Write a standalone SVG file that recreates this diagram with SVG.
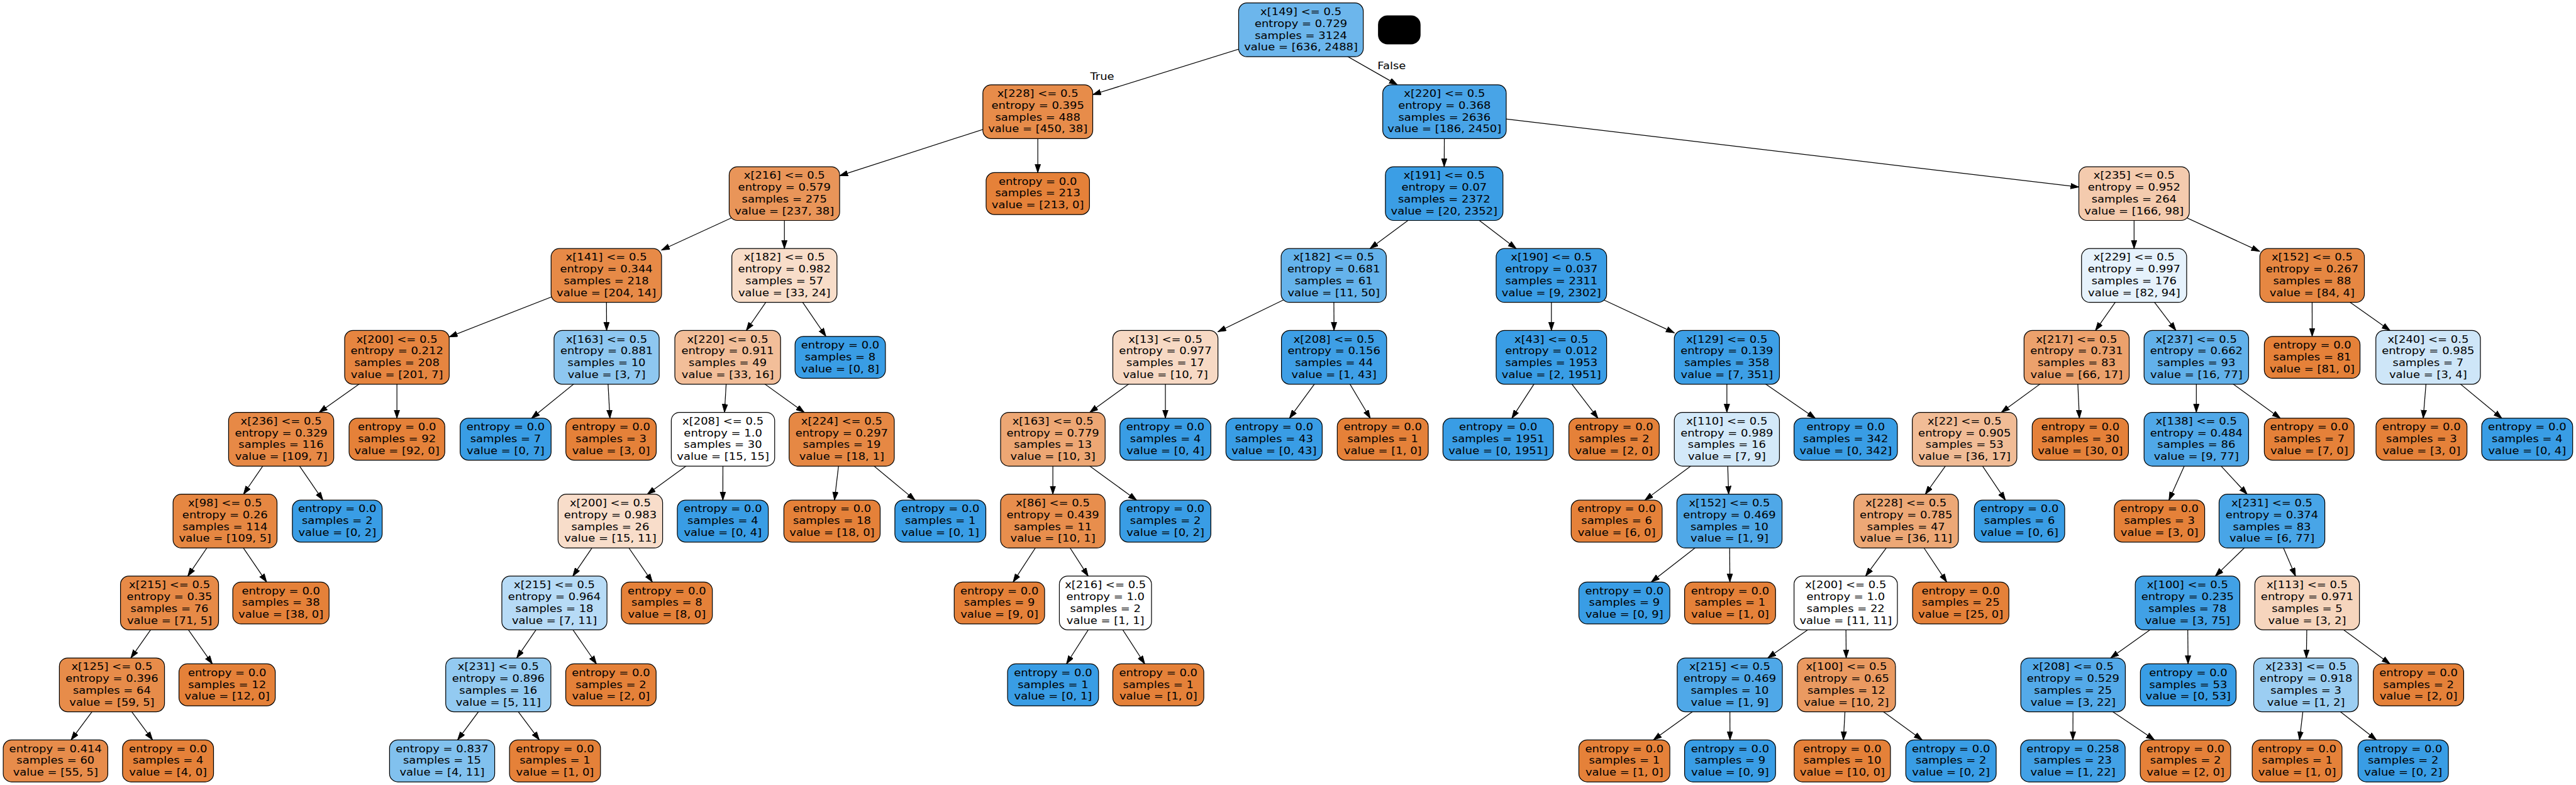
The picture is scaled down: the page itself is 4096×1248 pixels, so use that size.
<svg xmlns="http://www.w3.org/2000/svg" width="4096" height="1248" viewBox="0 0 4096 1248">
<defs>
<style>
.b{stroke:#000;stroke-width:1.3}
text{font-family:"DejaVu Sans","Liberation Sans",sans-serif;font-size:16.5px;text-anchor:middle;fill:#000}
.e line{stroke:#000;stroke-width:1.3;marker-end:url(#ah)}
</style>
<marker id="ah" markerUnits="userSpaceOnUse" markerWidth="16" markerHeight="12" refX="14" refY="5" orient="auto"><path d="M0,0.3 L14,5 L0,9.7 z" fill="#000" stroke="#000" stroke-width="1"/></marker>
</defs>
<rect width="4096" height="1248" fill="#fff"/>
<g transform="scale(0.9392)">
<g id="connectors" class="e">
<line x1="2202.5" y1="50.5" x2="1850" y2="160.2"/>
<line x1="2202.5" y1="50.5" x2="2365.7" y2="143.6"/>
<line x1="1757" y1="189.1" x2="1421.5" y2="297.5"/>
<line x1="1757" y1="189.1" x2="1757" y2="292.2"/>
<line x1="1328" y1="327.7" x2="1120" y2="423.3"/>
<line x1="1328" y1="327.7" x2="1328" y2="420.8"/>
<line x1="1026.5" y1="466.3" x2="760.5" y2="570.3"/>
<line x1="1026.5" y1="466.3" x2="1027" y2="559.4"/>
<line x1="672" y1="604.9" x2="540.3" y2="698"/>
<line x1="672" y1="604.9" x2="672" y2="708"/>
<line x1="476" y1="743.5" x2="412.2" y2="836.6"/>
<line x1="476" y1="743.5" x2="546.7" y2="846.6"/>
<line x1="381" y1="882.1" x2="317.9" y2="975.2"/>
<line x1="381" y1="882.1" x2="451.4" y2="985.2"/>
<line x1="287" y1="1020.7" x2="221.5" y2="1113.8"/>
<line x1="287" y1="1020.7" x2="359.5" y2="1123.8"/>
<line x1="189.5" y1="1159.3" x2="120.3" y2="1252.5"/>
<line x1="189.5" y1="1159.3" x2="258.3" y2="1252.5"/>
<line x1="1027" y1="604.9" x2="899.8" y2="708"/>
<line x1="1027" y1="604.9" x2="1032.6" y2="708"/>
<line x1="1328" y1="466.3" x2="1263.5" y2="559.4"/>
<line x1="1328" y1="466.3" x2="1398.3" y2="569.4"/>
<line x1="1232" y1="604.9" x2="1226.6" y2="698"/>
<line x1="1232" y1="604.9" x2="1361.6" y2="698"/>
<line x1="1224" y1="743.5" x2="1095.9" y2="836.6"/>
<line x1="1224" y1="743.5" x2="1223.8" y2="846.6"/>
<line x1="1033.3" y1="882.1" x2="969.7" y2="975.2"/>
<line x1="1033.3" y1="882.1" x2="1104.5" y2="985.2"/>
<line x1="938.6" y1="1020.7" x2="874.8" y2="1113.8"/>
<line x1="938.6" y1="1020.7" x2="1009.8" y2="1123.8"/>
<line x1="843.6" y1="1159.3" x2="774.7" y2="1252.5"/>
<line x1="843.6" y1="1159.3" x2="913.1" y2="1252.5"/>
<line x1="1425" y1="743.5" x2="1412.8" y2="846.6"/>
<line x1="1425" y1="743.5" x2="1549.2" y2="846.6"/>
<line x1="2445.5" y1="189.1" x2="2445" y2="282.2"/>
<line x1="2445.5" y1="189.1" x2="3519.5" y2="316.6"/>
<line x1="2445" y1="327.7" x2="2319.4" y2="420.8"/>
<line x1="2445" y1="327.7" x2="2566.9" y2="420.8"/>
<line x1="2258" y1="466.3" x2="2062" y2="561.6"/>
<line x1="2258" y1="466.3" x2="2258.5" y2="559.4"/>
<line x1="1973" y1="604.9" x2="1845" y2="698"/>
<line x1="1973" y1="604.9" x2="1973" y2="708"/>
<line x1="1782.5" y1="743.5" x2="1782.5" y2="836.6"/>
<line x1="1782.5" y1="743.5" x2="1924.2" y2="846.6"/>
<line x1="1782.5" y1="882.1" x2="1715.2" y2="985.2"/>
<line x1="1782.5" y1="882.1" x2="1842.3" y2="975.2"/>
<line x1="1871.5" y1="1020.7" x2="1805.5" y2="1123.8"/>
<line x1="1871.5" y1="1020.7" x2="1938.1" y2="1123.8"/>
<line x1="2258.5" y1="604.9" x2="2183" y2="708"/>
<line x1="2258.5" y1="604.9" x2="2319.9" y2="708"/>
<line x1="2626.5" y1="466.3" x2="2626.5" y2="559.4"/>
<line x1="2626.5" y1="466.3" x2="2834.6" y2="563.4"/>
<line x1="2626.5" y1="604.9" x2="2559.5" y2="708"/>
<line x1="2626.5" y1="604.9" x2="2705.4" y2="708"/>
<line x1="2923.6" y1="604.9" x2="2923.6" y2="698"/>
<line x1="2923.6" y1="604.9" x2="3073.3" y2="708"/>
<line x1="2923.6" y1="743.5" x2="2784.8" y2="846.6"/>
<line x1="2923.6" y1="743.5" x2="2926.6" y2="836.6"/>
<line x1="2928" y1="882.1" x2="2795.6" y2="985.2"/>
<line x1="2928" y1="882.1" x2="2928.7" y2="985.2"/>
<line x1="3613" y1="327.7" x2="3613" y2="420.8"/>
<line x1="3613" y1="327.7" x2="3825.6" y2="425.5"/>
<line x1="3613" y1="466.3" x2="3547.6" y2="559.4"/>
<line x1="3613" y1="466.3" x2="3683.8" y2="559.4"/>
<line x1="3515.7" y1="604.9" x2="3388.3" y2="698"/>
<line x1="3515.7" y1="604.9" x2="3520.4" y2="708"/>
<line x1="3326" y1="743.5" x2="3259.5" y2="836.6"/>
<line x1="3326" y1="743.5" x2="3395.2" y2="846.6"/>
<line x1="3227" y1="882.1" x2="3158.4" y2="975.2"/>
<line x1="3227" y1="882.1" x2="3295.8" y2="985.2"/>
<line x1="3124.8" y1="1020.7" x2="2992.9" y2="1113.8"/>
<line x1="3124.8" y1="1020.7" x2="3125.6" y2="1113.8"/>
<line x1="2928.5" y1="1159.3" x2="2799.2" y2="1252.5"/>
<line x1="2928.5" y1="1159.3" x2="2928.9" y2="1252.5"/>
<line x1="3126" y1="1159.3" x2="3120.9" y2="1252.5"/>
<line x1="3126" y1="1159.3" x2="3254.2" y2="1252.5"/>
<line x1="3718.4" y1="604.9" x2="3718.4" y2="698"/>
<line x1="3718.4" y1="604.9" x2="3860.6" y2="708"/>
<line x1="3718.4" y1="743.5" x2="3672" y2="846.6"/>
<line x1="3718.4" y1="743.5" x2="3804.4" y2="836.6"/>
<line x1="3846.4" y1="882.1" x2="3750.4" y2="975.2"/>
<line x1="3846.4" y1="882.1" x2="3886.4" y2="975.2"/>
<line x1="3703.5" y1="1020.7" x2="3573.3" y2="1113.8"/>
<line x1="3703.5" y1="1020.7" x2="3704.4" y2="1123.8"/>
<line x1="3509.7" y1="1159.3" x2="3509.4" y2="1252.5"/>
<line x1="3509.7" y1="1159.3" x2="3647.5" y2="1252.5"/>
<line x1="3906" y1="1020.7" x2="3904.7" y2="1113.8"/>
<line x1="3906" y1="1020.7" x2="4046.2" y2="1123.8"/>
<line x1="3904" y1="1159.3" x2="3893.1" y2="1252.5"/>
<line x1="3904" y1="1159.3" x2="4023.2" y2="1252.5"/>
<line x1="3914.4" y1="466.3" x2="3914.5" y2="569.4"/>
<line x1="3914.4" y1="466.3" x2="4046.3" y2="559.4"/>
<line x1="4110.8" y1="604.9" x2="4102.5" y2="708"/>
<line x1="4110.8" y1="604.9" x2="4235.6" y2="708"/>
<g transform="translate(1866,135) scale(1.16,1)"><text>True</text></g>
<g transform="translate(2356,117) scale(1.16,1)"><text>False</text></g>
</g>
<rect id="masked" x="2333" y="26" width="72" height="49" rx="16" fill="#000"/>
<g id="n0" transform="translate(2202.5,50.5)"><rect class="b" x="-105.5" y="-45.5" width="211" height="91" rx="14" fill="#6cb6ec"/><g transform="scale(1.16,1)"><text y="-25">x[149] &lt;= 0.5</text><text y="-5">entropy = 0.729</text><text y="15">samples = 3124</text><text y="35">value = [636, 2488]</text></g></g>
<g id="n1" transform="translate(1757,189.1)"><rect class="b" x="-93" y="-45.5" width="186" height="91" rx="14" fill="#e78c4a"/><g transform="scale(1.16,1)"><text y="-25">x[228] &lt;= 0.5</text><text y="-5">entropy = 0.395</text><text y="15">samples = 488</text><text y="35">value = [450, 38]</text></g></g>
<g id="n2" transform="translate(1328,327.7)"><rect class="b" x="-93.5" y="-45.5" width="187" height="91" rx="14" fill="#e99559"/><g transform="scale(1.16,1)"><text y="-25">x[216] &lt;= 0.5</text><text y="-5">entropy = 0.579</text><text y="15">samples = 275</text><text y="35">value = [237, 38]</text></g></g>
<g id="n3" transform="translate(1026.5,466.3)"><rect class="b" x="-93.5" y="-45.5" width="187" height="91" rx="14" fill="#e78a47"/><g transform="scale(1.16,1)"><text y="-25">x[141] &lt;= 0.5</text><text y="-5">entropy = 0.344</text><text y="15">samples = 218</text><text y="35">value = [204, 14]</text></g></g>
<g id="n4" transform="translate(672,604.9)"><rect class="b" x="-88.5" y="-45.5" width="177" height="91" rx="14" fill="#e68540"/><g transform="scale(1.16,1)"><text y="-25">x[200] &lt;= 0.5</text><text y="-5">entropy = 0.212</text><text y="15">samples = 208</text><text y="35">value = [201, 7]</text></g></g>
<g id="n5" transform="translate(476,743.5)"><rect class="b" x="-89" y="-45.5" width="178" height="91" rx="14" fill="#e78946"/><g transform="scale(1.16,1)"><text y="-25">x[236] &lt;= 0.5</text><text y="-5">entropy = 0.329</text><text y="15">samples = 116</text><text y="35">value = [109, 7]</text></g></g>
<g id="n6" transform="translate(381,882.1)"><rect class="b" x="-88" y="-45.5" width="176" height="91" rx="14" fill="#e68742"/><g transform="scale(1.16,1)"><text y="-25">x[98] &lt;= 0.5</text><text y="-5">entropy = 0.26</text><text y="15">samples = 114</text><text y="35">value = [109, 5]</text></g></g>
<g id="n7" transform="translate(287,1020.7)"><rect class="b" x="-83" y="-45.5" width="166" height="91" rx="14" fill="#e78a47"/><g transform="scale(1.16,1)"><text y="-25">x[215] &lt;= 0.5</text><text y="-5">entropy = 0.35</text><text y="15">samples = 76</text><text y="35">value = [71, 5]</text></g></g>
<g id="n8" transform="translate(189.5,1159.3)"><rect class="b" x="-89" y="-45.5" width="178" height="91" rx="14" fill="#e78c4a"/><g transform="scale(1.16,1)"><text y="-25">x[125] &lt;= 0.5</text><text y="-5">entropy = 0.396</text><text y="15">samples = 64</text><text y="35">value = [59, 5]</text></g></g>
<g id="n9" transform="translate(94,1288)"><rect class="b" x="-88.5" y="-35.5" width="177" height="71" rx="14" fill="#e78c4b"/><g transform="scale(1.16,1)"><text y="-15">entropy = 0.414</text><text y="5">samples = 60</text><text y="25">value = [55, 5]</text></g></g>
<g id="n10" transform="translate(284.5,1288)"><rect class="b" x="-77" y="-35.5" width="154" height="71" rx="14" fill="#e58139"/><g transform="scale(1.16,1)"><text y="-15">entropy = 0.0</text><text y="5">samples = 4</text><text y="25">value = [4, 0]</text></g></g>
<g id="n11" transform="translate(384.5,1159.3)"><rect class="b" x="-81.5" y="-35.5" width="163" height="71" rx="14" fill="#e58139"/><g transform="scale(1.16,1)"><text y="-15">entropy = 0.0</text><text y="5">samples = 12</text><text y="25">value = [12, 0]</text></g></g>
<g id="n12" transform="translate(475.6,1020.7)"><rect class="b" x="-81.5" y="-35.5" width="163" height="71" rx="14" fill="#e58139"/><g transform="scale(1.16,1)"><text y="-15">entropy = 0.0</text><text y="5">samples = 38</text><text y="25">value = [38, 0]</text></g></g>
<g id="n13" transform="translate(571,882.1)"><rect class="b" x="-76" y="-35.5" width="152" height="71" rx="14" fill="#399de5"/><g transform="scale(1.16,1)"><text y="-15">entropy = 0.0</text><text y="5">samples = 2</text><text y="25">value = [0, 2]</text></g></g>
<g id="n14" transform="translate(672,743.5)"><rect class="b" x="-81" y="-35.5" width="162" height="71" rx="14" fill="#e58139"/><g transform="scale(1.16,1)"><text y="-15">entropy = 0.0</text><text y="5">samples = 92</text><text y="25">value = [92, 0]</text></g></g>
<g id="n15" transform="translate(1027,604.9)"><rect class="b" x="-89" y="-45.5" width="178" height="91" rx="14" fill="#8ec7f0"/><g transform="scale(1.16,1)"><text y="-25">x[163] &lt;= 0.5</text><text y="-5">entropy = 0.881</text><text y="15">samples = 10</text><text y="35">value = [3, 7]</text></g></g>
<g id="n16" transform="translate(856,743.5)"><rect class="b" x="-77" y="-35.5" width="154" height="71" rx="14" fill="#399de5"/><g transform="scale(1.16,1)"><text y="-15">entropy = 0.0</text><text y="5">samples = 7</text><text y="25">value = [0, 7]</text></g></g>
<g id="n17" transform="translate(1034.5,743.5)"><rect class="b" x="-76.5" y="-35.5" width="153" height="71" rx="14" fill="#e58139"/><g transform="scale(1.16,1)"><text y="-15">entropy = 0.0</text><text y="5">samples = 3</text><text y="25">value = [3, 0]</text></g></g>
<g id="n18" transform="translate(1328,466.3)"><rect class="b" x="-89" y="-45.5" width="178" height="91" rx="14" fill="#f8ddc9"/><g transform="scale(1.16,1)"><text y="-25">x[182] &lt;= 0.5</text><text y="-5">entropy = 0.982</text><text y="15">samples = 57</text><text y="35">value = [33, 24]</text></g></g>
<g id="n19" transform="translate(1232,604.9)"><rect class="b" x="-89.5" y="-45.5" width="179" height="91" rx="14" fill="#f2be99"/><g transform="scale(1.16,1)"><text y="-25">x[220] &lt;= 0.5</text><text y="-5">entropy = 0.911</text><text y="15">samples = 49</text><text y="35">value = [33, 16]</text></g></g>
<g id="n20" transform="translate(1224,743.5)"><rect class="b" x="-87.5" y="-45.5" width="175" height="91" rx="14" fill="#ffffff"/><g transform="scale(1.16,1)"><text y="-25">x[208] &lt;= 0.5</text><text y="-5">entropy = 1.0</text><text y="15">samples = 30</text><text y="35">value = [15, 15]</text></g></g>
<g id="n21" transform="translate(1033.3,882.1)"><rect class="b" x="-88.5" y="-45.5" width="177" height="91" rx="14" fill="#f8ddca"/><g transform="scale(1.16,1)"><text y="-25">x[200] &lt;= 0.5</text><text y="-5">entropy = 0.983</text><text y="15">samples = 26</text><text y="35">value = [15, 11]</text></g></g>
<g id="n22" transform="translate(938.6,1020.7)"><rect class="b" x="-89" y="-45.5" width="178" height="91" rx="14" fill="#b7dbf6"/><g transform="scale(1.16,1)"><text y="-25">x[215] &lt;= 0.5</text><text y="-5">entropy = 0.964</text><text y="15">samples = 18</text><text y="35">value = [7, 11]</text></g></g>
<g id="n23" transform="translate(843.6,1159.3)"><rect class="b" x="-89" y="-45.5" width="178" height="91" rx="14" fill="#93caf1"/><g transform="scale(1.16,1)"><text y="-25">x[231] &lt;= 0.5</text><text y="-5">entropy = 0.896</text><text y="15">samples = 16</text><text y="35">value = [5, 11]</text></g></g>
<g id="n24" transform="translate(748.5,1288)"><rect class="b" x="-89" y="-35.5" width="178" height="71" rx="14" fill="#81c1ee"/><g transform="scale(1.16,1)"><text y="-15">entropy = 0.837</text><text y="5">samples = 15</text><text y="25">value = [4, 11]</text></g></g>
<g id="n25" transform="translate(939.6,1288)"><rect class="b" x="-77" y="-35.5" width="154" height="71" rx="14" fill="#e58139"/><g transform="scale(1.16,1)"><text y="-15">entropy = 0.0</text><text y="5">samples = 1</text><text y="25">value = [1, 0]</text></g></g>
<g id="n26" transform="translate(1034.3,1159.3)"><rect class="b" x="-76.5" y="-35.5" width="153" height="71" rx="14" fill="#e58139"/><g transform="scale(1.16,1)"><text y="-15">entropy = 0.0</text><text y="5">samples = 2</text><text y="25">value = [2, 0]</text></g></g>
<g id="n27" transform="translate(1129,1020.7)"><rect class="b" x="-77" y="-35.5" width="154" height="71" rx="14" fill="#e58139"/><g transform="scale(1.16,1)"><text y="-15">entropy = 0.0</text><text y="5">samples = 8</text><text y="25">value = [8, 0]</text></g></g>
<g id="n28" transform="translate(1223.7,882.1)"><rect class="b" x="-77" y="-35.5" width="154" height="71" rx="14" fill="#399de5"/><g transform="scale(1.16,1)"><text y="-15">entropy = 0.0</text><text y="5">samples = 4</text><text y="25">value = [0, 4]</text></g></g>
<g id="n29" transform="translate(1425,743.5)"><rect class="b" x="-89" y="-45.5" width="178" height="91" rx="14" fill="#e68844"/><g transform="scale(1.16,1)"><text y="-25">x[224] &lt;= 0.5</text><text y="-5">entropy = 0.297</text><text y="15">samples = 19</text><text y="35">value = [18, 1]</text></g></g>
<g id="n30" transform="translate(1408.6,882.1)"><rect class="b" x="-81.5" y="-35.5" width="163" height="71" rx="14" fill="#e58139"/><g transform="scale(1.16,1)"><text y="-15">entropy = 0.0</text><text y="5">samples = 18</text><text y="25">value = [18, 0]</text></g></g>
<g id="n31" transform="translate(1592,882.1)"><rect class="b" x="-77" y="-35.5" width="154" height="71" rx="14" fill="#399de5"/><g transform="scale(1.16,1)"><text y="-15">entropy = 0.0</text><text y="5">samples = 1</text><text y="25">value = [0, 1]</text></g></g>
<g id="n32" transform="translate(1422.5,604.9)"><rect class="b" x="-76.5" y="-35.5" width="153" height="71" rx="14" fill="#399de5"/><g transform="scale(1.16,1)"><text y="-15">entropy = 0.0</text><text y="5">samples = 8</text><text y="25">value = [0, 8]</text></g></g>
<g id="n33" transform="translate(1757,327.7)"><rect class="b" x="-87.5" y="-35.5" width="175" height="71" rx="14" fill="#e58139"/><g transform="scale(1.16,1)"><text y="-15">entropy = 0.0</text><text y="5">samples = 213</text><text y="25">value = [213, 0]</text></g></g>
<g id="n34" transform="translate(2445.5,189.1)"><rect class="b" x="-104.5" y="-45.5" width="209" height="91" rx="14" fill="#48a4e7"/><g transform="scale(1.16,1)"><text y="-25">x[220] &lt;= 0.5</text><text y="-5">entropy = 0.368</text><text y="15">samples = 2636</text><text y="35">value = [186, 2450]</text></g></g>
<g id="n35" transform="translate(2445,327.7)"><rect class="b" x="-99.5" y="-45.5" width="199" height="91" rx="14" fill="#3b9ee5"/><g transform="scale(1.16,1)"><text y="-25">x[191] &lt;= 0.5</text><text y="-5">entropy = 0.07</text><text y="15">samples = 2372</text><text y="35">value = [20, 2352]</text></g></g>
<g id="n36" transform="translate(2258,466.3)"><rect class="b" x="-89" y="-45.5" width="178" height="91" rx="14" fill="#65b3eb"/><g transform="scale(1.16,1)"><text y="-25">x[182] &lt;= 0.5</text><text y="-5">entropy = 0.681</text><text y="15">samples = 61</text><text y="35">value = [11, 50]</text></g></g>
<g id="n37" transform="translate(1973,604.9)"><rect class="b" x="-89" y="-45.5" width="178" height="91" rx="14" fill="#f7d9c4"/><g transform="scale(1.16,1)"><text y="-25">x[13] &lt;= 0.5</text><text y="-5">entropy = 0.977</text><text y="15">samples = 17</text><text y="35">value = [10, 7]</text></g></g>
<g id="n38" transform="translate(1782.5,743.5)"><rect class="b" x="-88.5" y="-45.5" width="177" height="91" rx="14" fill="#eda774"/><g transform="scale(1.16,1)"><text y="-25">x[163] &lt;= 0.5</text><text y="-5">entropy = 0.779</text><text y="15">samples = 13</text><text y="35">value = [10, 3]</text></g></g>
<g id="n39" transform="translate(1782.5,882.1)"><rect class="b" x="-88.5" y="-45.5" width="177" height="91" rx="14" fill="#e88e4d"/><g transform="scale(1.16,1)"><text y="-25">x[86] &lt;= 0.5</text><text y="-5">entropy = 0.439</text><text y="15">samples = 11</text><text y="35">value = [10, 1]</text></g></g>
<g id="n40" transform="translate(1692,1020.7)"><rect class="b" x="-76.5" y="-35.5" width="153" height="71" rx="14" fill="#e58139"/><g transform="scale(1.16,1)"><text y="-15">entropy = 0.0</text><text y="5">samples = 9</text><text y="25">value = [9, 0]</text></g></g>
<g id="n41" transform="translate(1871.5,1020.7)"><rect class="b" x="-78" y="-45.5" width="156" height="91" rx="14" fill="#ffffff"/><g transform="scale(1.16,1)"><text y="-25">x[216] &lt;= 0.5</text><text y="-5">entropy = 1.0</text><text y="15">samples = 2</text><text y="35">value = [1, 1]</text></g></g>
<g id="n42" transform="translate(1782.8,1159.3)"><rect class="b" x="-77" y="-35.5" width="154" height="71" rx="14" fill="#399de5"/><g transform="scale(1.16,1)"><text y="-15">entropy = 0.0</text><text y="5">samples = 1</text><text y="25">value = [0, 1]</text></g></g>
<g id="n43" transform="translate(1961,1159.3)"><rect class="b" x="-77" y="-35.5" width="154" height="71" rx="14" fill="#e58139"/><g transform="scale(1.16,1)"><text y="-15">entropy = 0.0</text><text y="5">samples = 1</text><text y="25">value = [1, 0]</text></g></g>
<g id="n44" transform="translate(1973,882.1)"><rect class="b" x="-77" y="-35.5" width="154" height="71" rx="14" fill="#399de5"/><g transform="scale(1.16,1)"><text y="-15">entropy = 0.0</text><text y="5">samples = 2</text><text y="25">value = [0, 2]</text></g></g>
<g id="n45" transform="translate(1973,743.5)"><rect class="b" x="-77" y="-35.5" width="154" height="71" rx="14" fill="#399de5"/><g transform="scale(1.16,1)"><text y="-15">entropy = 0.0</text><text y="5">samples = 4</text><text y="25">value = [0, 4]</text></g></g>
<g id="n46" transform="translate(2258.5,604.9)"><rect class="b" x="-89" y="-45.5" width="178" height="91" rx="14" fill="#3e9fe6"/><g transform="scale(1.16,1)"><text y="-25">x[208] &lt;= 0.5</text><text y="-5">entropy = 0.156</text><text y="15">samples = 44</text><text y="35">value = [1, 43]</text></g></g>
<g id="n47" transform="translate(2157,743.5)"><rect class="b" x="-81.5" y="-35.5" width="163" height="71" rx="14" fill="#399de5"/><g transform="scale(1.16,1)"><text y="-15">entropy = 0.0</text><text y="5">samples = 43</text><text y="25">value = [0, 43]</text></g></g>
<g id="n48" transform="translate(2341,743.5)"><rect class="b" x="-77" y="-35.5" width="154" height="71" rx="14" fill="#e58139"/><g transform="scale(1.16,1)"><text y="-15">entropy = 0.0</text><text y="5">samples = 1</text><text y="25">value = [1, 0]</text></g></g>
<g id="n49" transform="translate(2626.5,466.3)"><rect class="b" x="-93.5" y="-45.5" width="187" height="91" rx="14" fill="#3a9de5"/><g transform="scale(1.16,1)"><text y="-25">x[190] &lt;= 0.5</text><text y="-5">entropy = 0.037</text><text y="15">samples = 2311</text><text y="35">value = [9, 2302]</text></g></g>
<g id="n50" transform="translate(2626.5,604.9)"><rect class="b" x="-93.5" y="-45.5" width="187" height="91" rx="14" fill="#399de5"/><g transform="scale(1.16,1)"><text y="-25">x[43] &lt;= 0.5</text><text y="-5">entropy = 0.012</text><text y="15">samples = 1953</text><text y="35">value = [2, 1951]</text></g></g>
<g id="n51" transform="translate(2536.4,743.5)"><rect class="b" x="-93.5" y="-35.5" width="187" height="71" rx="14" fill="#399de5"/><g transform="scale(1.16,1)"><text y="-15">entropy = 0.0</text><text y="5">samples = 1951</text><text y="25">value = [0, 1951]</text></g></g>
<g id="n52" transform="translate(2732.6,743.5)"><rect class="b" x="-76.5" y="-35.5" width="153" height="71" rx="14" fill="#e58139"/><g transform="scale(1.16,1)"><text y="-15">entropy = 0.0</text><text y="5">samples = 2</text><text y="25">value = [2, 0]</text></g></g>
<g id="n53" transform="translate(2923.6,604.9)"><rect class="b" x="-89" y="-45.5" width="178" height="91" rx="14" fill="#3d9fe6"/><g transform="scale(1.16,1)"><text y="-25">x[129] &lt;= 0.5</text><text y="-5">entropy = 0.139</text><text y="15">samples = 358</text><text y="35">value = [7, 351]</text></g></g>
<g id="n54" transform="translate(2923.6,743.5)"><rect class="b" x="-89" y="-45.5" width="178" height="91" rx="14" fill="#d3e9f9"/><g transform="scale(1.16,1)"><text y="-25">x[110] &lt;= 0.5</text><text y="-5">entropy = 0.989</text><text y="15">samples = 16</text><text y="35">value = [7, 9]</text></g></g>
<g id="n55" transform="translate(2737,882.1)"><rect class="b" x="-77" y="-35.5" width="154" height="71" rx="14" fill="#e58139"/><g transform="scale(1.16,1)"><text y="-15">entropy = 0.0</text><text y="5">samples = 6</text><text y="25">value = [6, 0]</text></g></g>
<g id="n56" transform="translate(2928,882.1)"><rect class="b" x="-89" y="-45.5" width="178" height="91" rx="14" fill="#4fa8e8"/><g transform="scale(1.16,1)"><text y="-25">x[152] &lt;= 0.5</text><text y="-5">entropy = 0.469</text><text y="15">samples = 10</text><text y="35">value = [1, 9]</text></g></g>
<g id="n57" transform="translate(2750,1020.7)"><rect class="b" x="-77" y="-35.5" width="154" height="71" rx="14" fill="#399de5"/><g transform="scale(1.16,1)"><text y="-15">entropy = 0.0</text><text y="5">samples = 9</text><text y="25">value = [0, 9]</text></g></g>
<g id="n58" transform="translate(2929,1020.7)"><rect class="b" x="-77" y="-35.5" width="154" height="71" rx="14" fill="#e58139"/><g transform="scale(1.16,1)"><text y="-15">entropy = 0.0</text><text y="5">samples = 1</text><text y="25">value = [1, 0]</text></g></g>
<g id="n59" transform="translate(3124.8,743.5)"><rect class="b" x="-87.5" y="-35.5" width="175" height="71" rx="14" fill="#399de5"/><g transform="scale(1.16,1)"><text y="-15">entropy = 0.0</text><text y="5">samples = 342</text><text y="25">value = [0, 342]</text></g></g>
<g id="n60" transform="translate(3613,327.7)"><rect class="b" x="-93.5" y="-45.5" width="187" height="91" rx="14" fill="#f4cbae"/><g transform="scale(1.16,1)"><text y="-25">x[235] &lt;= 0.5</text><text y="-5">entropy = 0.952</text><text y="15">samples = 264</text><text y="35">value = [166, 98]</text></g></g>
<g id="n61" transform="translate(3613,466.3)"><rect class="b" x="-89" y="-45.5" width="178" height="91" rx="14" fill="#e6f2fc"/><g transform="scale(1.16,1)"><text y="-25">x[229] &lt;= 0.5</text><text y="-5">entropy = 0.997</text><text y="15">samples = 176</text><text y="35">value = [82, 94]</text></g></g>
<g id="n62" transform="translate(3515.7,604.9)"><rect class="b" x="-89" y="-45.5" width="178" height="91" rx="14" fill="#eca16c"/><g transform="scale(1.16,1)"><text y="-25">x[217] &lt;= 0.5</text><text y="-5">entropy = 0.731</text><text y="15">samples = 83</text><text y="35">value = [66, 17]</text></g></g>
<g id="n63" transform="translate(3326,743.5)"><rect class="b" x="-88.5" y="-45.5" width="177" height="91" rx="14" fill="#f1bc96"/><g transform="scale(1.16,1)"><text y="-25">x[22] &lt;= 0.5</text><text y="-5">entropy = 0.905</text><text y="15">samples = 53</text><text y="35">value = [36, 17]</text></g></g>
<g id="n64" transform="translate(3227,882.1)"><rect class="b" x="-88.5" y="-45.5" width="177" height="91" rx="14" fill="#eda876"/><g transform="scale(1.16,1)"><text y="-25">x[228] &lt;= 0.5</text><text y="-5">entropy = 0.785</text><text y="15">samples = 47</text><text y="35">value = [36, 11]</text></g></g>
<g id="n65" transform="translate(3124.8,1020.7)"><rect class="b" x="-87.5" y="-45.5" width="175" height="91" rx="14" fill="#ffffff"/><g transform="scale(1.16,1)"><text y="-25">x[200] &lt;= 0.5</text><text y="-5">entropy = 1.0</text><text y="15">samples = 22</text><text y="35">value = [11, 11]</text></g></g>
<g id="n66" transform="translate(2928.5,1159.3)"><rect class="b" x="-89" y="-45.5" width="178" height="91" rx="14" fill="#4fa8e8"/><g transform="scale(1.16,1)"><text y="-25">x[215] &lt;= 0.5</text><text y="-5">entropy = 0.469</text><text y="15">samples = 10</text><text y="35">value = [1, 9]</text></g></g>
<g id="n67" transform="translate(2750,1288)"><rect class="b" x="-77" y="-35.5" width="154" height="71" rx="14" fill="#e58139"/><g transform="scale(1.16,1)"><text y="-15">entropy = 0.0</text><text y="5">samples = 1</text><text y="25">value = [1, 0]</text></g></g>
<g id="n68" transform="translate(2929,1288)"><rect class="b" x="-77" y="-35.5" width="154" height="71" rx="14" fill="#399de5"/><g transform="scale(1.16,1)"><text y="-15">entropy = 0.0</text><text y="5">samples = 9</text><text y="25">value = [0, 9]</text></g></g>
<g id="n69" transform="translate(3126,1159.3)"><rect class="b" x="-83" y="-45.5" width="166" height="91" rx="14" fill="#ea9a61"/><g transform="scale(1.16,1)"><text y="-25">x[100] &lt;= 0.5</text><text y="-5">entropy = 0.65</text><text y="15">samples = 12</text><text y="35">value = [10, 2]</text></g></g>
<g id="n70" transform="translate(3119,1288)"><rect class="b" x="-81.5" y="-35.5" width="163" height="71" rx="14" fill="#e58139"/><g transform="scale(1.16,1)"><text y="-15">entropy = 0.0</text><text y="5">samples = 10</text><text y="25">value = [10, 0]</text></g></g>
<g id="n71" transform="translate(3303,1288)"><rect class="b" x="-76.5" y="-35.5" width="153" height="71" rx="14" fill="#399de5"/><g transform="scale(1.16,1)"><text y="-15">entropy = 0.0</text><text y="5">samples = 2</text><text y="25">value = [0, 2]</text></g></g>
<g id="n72" transform="translate(3319.5,1020.7)"><rect class="b" x="-81.5" y="-35.5" width="163" height="71" rx="14" fill="#e58139"/><g transform="scale(1.16,1)"><text y="-15">entropy = 0.0</text><text y="5">samples = 25</text><text y="25">value = [25, 0]</text></g></g>
<g id="n73" transform="translate(3419,882.1)"><rect class="b" x="-76.5" y="-35.5" width="153" height="71" rx="14" fill="#399de5"/><g transform="scale(1.16,1)"><text y="-15">entropy = 0.0</text><text y="5">samples = 6</text><text y="25">value = [0, 6]</text></g></g>
<g id="n74" transform="translate(3522,743.5)"><rect class="b" x="-81.5" y="-35.5" width="163" height="71" rx="14" fill="#e58139"/><g transform="scale(1.16,1)"><text y="-15">entropy = 0.0</text><text y="5">samples = 30</text><text y="25">value = [30, 0]</text></g></g>
<g id="n75" transform="translate(3718.4,604.9)"><rect class="b" x="-88.5" y="-45.5" width="177" height="91" rx="14" fill="#62b1ea"/><g transform="scale(1.16,1)"><text y="-25">x[237] &lt;= 0.5</text><text y="-5">entropy = 0.662</text><text y="15">samples = 93</text><text y="35">value = [16, 77]</text></g></g>
<g id="n76" transform="translate(3718.4,743.5)"><rect class="b" x="-88.5" y="-45.5" width="177" height="91" rx="14" fill="#50a8e8"/><g transform="scale(1.16,1)"><text y="-25">x[138] &lt;= 0.5</text><text y="-5">entropy = 0.484</text><text y="15">samples = 86</text><text y="35">value = [9, 77]</text></g></g>
<g id="n77" transform="translate(3656,882.1)"><rect class="b" x="-76.5" y="-35.5" width="153" height="71" rx="14" fill="#e58139"/><g transform="scale(1.16,1)"><text y="-15">entropy = 0.0</text><text y="5">samples = 3</text><text y="25">value = [3, 0]</text></g></g>
<g id="n78" transform="translate(3846.4,882.1)"><rect class="b" x="-89.5" y="-45.5" width="179" height="91" rx="14" fill="#48a5e7"/><g transform="scale(1.16,1)"><text y="-25">x[231] &lt;= 0.5</text><text y="-5">entropy = 0.374</text><text y="15">samples = 83</text><text y="35">value = [6, 77]</text></g></g>
<g id="n79" transform="translate(3703.5,1020.7)"><rect class="b" x="-88.5" y="-45.5" width="177" height="91" rx="14" fill="#41a1e6"/><g transform="scale(1.16,1)"><text y="-25">x[100] &lt;= 0.5</text><text y="-5">entropy = 0.235</text><text y="15">samples = 78</text><text y="35">value = [3, 75]</text></g></g>
<g id="n80" transform="translate(3509.7,1159.3)"><rect class="b" x="-88.5" y="-45.5" width="177" height="91" rx="14" fill="#54aae9"/><g transform="scale(1.16,1)"><text y="-25">x[208] &lt;= 0.5</text><text y="-5">entropy = 0.529</text><text y="15">samples = 25</text><text y="35">value = [3, 22]</text></g></g>
<g id="n81" transform="translate(3509.4,1288)"><rect class="b" x="-88.5" y="-35.5" width="177" height="71" rx="14" fill="#42a1e6"/><g transform="scale(1.16,1)"><text y="-15">entropy = 0.258</text><text y="5">samples = 23</text><text y="25">value = [1, 22]</text></g></g>
<g id="n82" transform="translate(3700,1288)"><rect class="b" x="-76.5" y="-35.5" width="153" height="71" rx="14" fill="#e58139"/><g transform="scale(1.16,1)"><text y="-15">entropy = 0.0</text><text y="5">samples = 2</text><text y="25">value = [2, 0]</text></g></g>
<g id="n83" transform="translate(3704.7,1159.3)"><rect class="b" x="-81" y="-35.5" width="162" height="71" rx="14" fill="#399de5"/><g transform="scale(1.16,1)"><text y="-15">entropy = 0.0</text><text y="5">samples = 53</text><text y="25">value = [0, 53]</text></g></g>
<g id="n84" transform="translate(3906,1020.7)"><rect class="b" x="-88.5" y="-45.5" width="177" height="91" rx="14" fill="#f6d5bd"/><g transform="scale(1.16,1)"><text y="-25">x[113] &lt;= 0.5</text><text y="-5">entropy = 0.971</text><text y="15">samples = 5</text><text y="35">value = [3, 2]</text></g></g>
<g id="n85" transform="translate(3904,1159.3)"><rect class="b" x="-88.5" y="-45.5" width="177" height="91" rx="14" fill="#9ccef2"/><g transform="scale(1.16,1)"><text y="-25">x[233] &lt;= 0.5</text><text y="-5">entropy = 0.918</text><text y="15">samples = 3</text><text y="35">value = [1, 2]</text></g></g>
<g id="n86" transform="translate(3889,1288)"><rect class="b" x="-76" y="-35.5" width="152" height="71" rx="14" fill="#e58139"/><g transform="scale(1.16,1)"><text y="-15">entropy = 0.0</text><text y="5">samples = 1</text><text y="25">value = [1, 0]</text></g></g>
<g id="n87" transform="translate(4068.6,1288)"><rect class="b" x="-76.5" y="-35.5" width="153" height="71" rx="14" fill="#399de5"/><g transform="scale(1.16,1)"><text y="-15">entropy = 0.0</text><text y="5">samples = 2</text><text y="25">value = [0, 2]</text></g></g>
<g id="n88" transform="translate(4094.5,1159.3)"><rect class="b" x="-76.5" y="-35.5" width="153" height="71" rx="14" fill="#e58139"/><g transform="scale(1.16,1)"><text y="-15">entropy = 0.0</text><text y="5">samples = 2</text><text y="25">value = [2, 0]</text></g></g>
<g id="n89" transform="translate(3909.5,743.5)"><rect class="b" x="-76" y="-35.5" width="152" height="71" rx="14" fill="#e58139"/><g transform="scale(1.16,1)"><text y="-15">entropy = 0.0</text><text y="5">samples = 7</text><text y="25">value = [7, 0]</text></g></g>
<g id="n90" transform="translate(3914.4,466.3)"><rect class="b" x="-88.5" y="-45.5" width="177" height="91" rx="14" fill="#e68742"/><g transform="scale(1.16,1)"><text y="-25">x[152] &lt;= 0.5</text><text y="-5">entropy = 0.267</text><text y="15">samples = 88</text><text y="35">value = [84, 4]</text></g></g>
<g id="n91" transform="translate(3914.5,604.9)"><rect class="b" x="-81" y="-35.5" width="162" height="71" rx="14" fill="#e58139"/><g transform="scale(1.16,1)"><text y="-15">entropy = 0.0</text><text y="5">samples = 81</text><text y="25">value = [81, 0]</text></g></g>
<g id="n92" transform="translate(4110.8,604.9)"><rect class="b" x="-88.5" y="-45.5" width="177" height="91" rx="14" fill="#cee6f8"/><g transform="scale(1.16,1)"><text y="-25">x[240] &lt;= 0.5</text><text y="-5">entropy = 0.985</text><text y="15">samples = 7</text><text y="35">value = [3, 4]</text></g></g>
<g id="n93" transform="translate(4099.6,743.5)"><rect class="b" x="-77" y="-35.5" width="154" height="71" rx="14" fill="#e58139"/><g transform="scale(1.16,1)"><text y="-15">entropy = 0.0</text><text y="5">samples = 3</text><text y="25">value = [3, 0]</text></g></g>
<g id="n94" transform="translate(4278.5,743.5)"><rect class="b" x="-77" y="-35.5" width="154" height="71" rx="14" fill="#399de5"/><g transform="scale(1.16,1)"><text y="-15">entropy = 0.0</text><text y="5">samples = 4</text><text y="25">value = [0, 4]</text></g></g>
</g>
</svg>
